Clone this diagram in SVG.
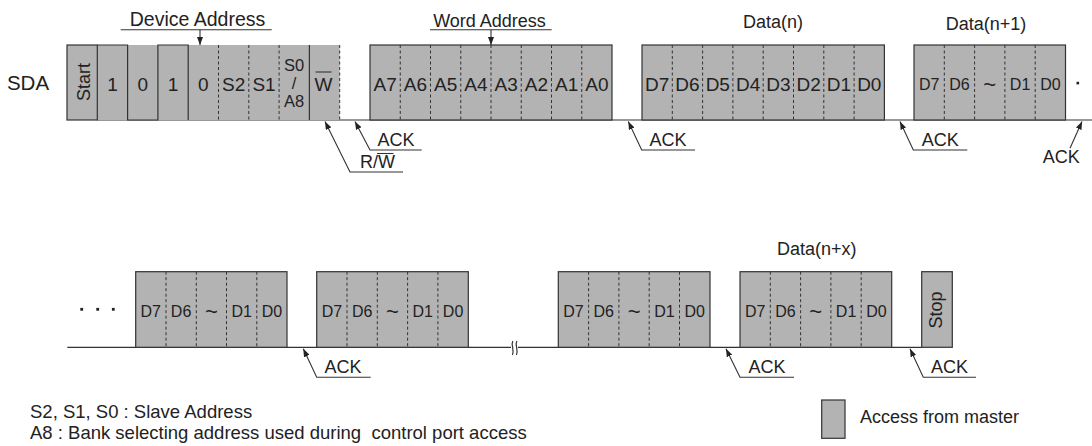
<svg xmlns="http://www.w3.org/2000/svg" width="1092" height="446" viewBox="0 0 1092 446">
<style>
.cell{fill:#b3b3b3;stroke:#333;stroke-width:1.2}
.fill{fill:#b3b3b3;stroke:none}
.div{stroke:#333;stroke-width:1;stroke-dasharray:3 2.5;fill:none}
.ln{stroke:#333;stroke-width:1.2;fill:none}
.ptr{stroke:#333;stroke-width:1.1;fill:none}
.t{font-family:"Liberation Sans",Arial,sans-serif;fill:#222;font-size:19px;text-anchor:middle}
.s{font-size:16px}
.m{font-size:18px}
.tl{font-size:22px}
.l{font-family:"Liberation Sans",Arial,sans-serif;fill:#222;font-size:18.5px;white-space:pre}
.dot{fill:#222}
</style>
<defs>
<marker id="ah" viewBox="0 0 8 6" refX="8" refY="3" markerWidth="8" markerHeight="6" orient="auto" markerUnits="userSpaceOnUse"><path d="M0,0 L8,3 L0,6 z" fill="#222"/></marker>
</defs>

<text class="t" x="28" y="90" style="font-size:20.5px">SDA</text>

<g id="connectors">
  <path class="ln" d="M97.3,120 H1092"/>
  <path class="ln" d="M67.3,347.3 H921.7"/>
  <rect x="511" y="343" width="7" height="8" fill="#fff"/>
  <path class="ln" d="M512.8,341 C510.6,345 514.8,350 512.4,355 M516.8,341 C514.6,345 518.8,350 516.4,355"/>
  <path class="ptr" d="M120.7,29.7 H271.7"/>
  <path class="ptr" d="M200,29.7 V45" marker-end="url(#ah)"/>
  <path class="ptr" d="M430,29.7 H551.7"/>
  <path class="ptr" d="M491,29.7 V45" marker-end="url(#ah)"/>
  <path class="ptr" d="M403,172 H350 L325,121.5" marker-end="url(#ah)"/>
  <path class="ptr" d="M421.7,150 H370 L355,121.5" marker-end="url(#ah)"/>
  <path class="ptr" d="M695,150 H641.7 L628.3,121.5" marker-end="url(#ah)"/>
  <path class="ptr" d="M967.3,150 H913.3 L900,121.5" marker-end="url(#ah)"/>
  <path class="ptr" d="M1070,148.3 L1082,121.5" marker-end="url(#ah)"/>
  <path class="ptr" d="M370.7,377.3 H316.7 L303.3,348.8" marker-end="url(#ah)"/>
  <path class="ptr" d="M794,377.3 H740 L726,348.8" marker-end="url(#ah)"/>
  <path class="ptr" d="M976,377.3 H923.3 L910,348.8" marker-end="url(#ah)"/>
</g>

<g id="labels">
  <text class="t" x="197.5" y="26" style="font-size:19.5px">Device Address</text>
  <text class="t m" x="489.5" y="26.5">Word Address</text>
  <text class="t m" x="773" y="28">Data(n)</text>
  <text class="t m" x="986" y="30">Data(n+1)</text>
  <text class="t m" x="816.7" y="255">Data(n+x)</text>
  <text class="t m" x="360" y="168" style="text-anchor:start">R/W</text>
  <path class="ptr" d="M377,153.5 H393.5"/>
  <text class="t m" x="396" y="145.7">ACK</text>
  <text class="t m" x="668" y="145.7">ACK</text>
  <text class="t m" x="940.3" y="145.7">ACK</text>
  <text class="t m" x="1061.3" y="163.3">ACK</text>
  <text class="t m" x="343" y="373.3">ACK</text>
  <text class="t m" x="767" y="373.3">ACK</text>
  <text class="t m" x="949.5" y="373.3">ACK</text>
</g>

<g id="device-address">
  <rect class="fill" x="97.3" y="45" width="242.4" height="75"/>
  <rect class="cell" x="67" y="45" width="30.3" height="75"/>
  <path class="ln" d="M97.3,45 H127.6 V120 H157.9 V45 H188.2 V120"/>
  <path class="div" d="M218.5,45 V120 M248.8,45 V120 M279.1,45 V120 M339.7,45 V120"/>
  <path class="ln" d="M309.4,45 V120"/>
  <text class="t m" transform="translate(90,82) rotate(-90)" x="0" y="0">Start</text>
  <text class="t" x="112.5" y="90.5">1</text>
  <text class="t" x="142.8" y="90.5">0</text>
  <text class="t" x="173" y="90.5">1</text>
  <text class="t" x="203.4" y="90.5">0</text>
  <text class="t" x="233.7" y="90.5">S2</text>
  <text class="t" x="264" y="90.5">S1</text>
  <text class="t" style="font-size:16.5px"><tspan x="294" y="70.5">S0</tspan><tspan x="294" y="88.5">/</tspan><tspan x="294" y="106.5">A8</tspan></text>
  <text class="t" x="323.5" y="90.5">W</text>
  <path class="ptr" d="M315.5,72 H331.5"/>
</g>

<g id="word-address">
  <rect class="cell" x="370" y="45" width="242" height="75"/>
  <path class="div" d="M400.25,45 V120 M430.5,45 V120 M460.75,45 V120 M491,45 V120 M521.25,45 V120 M551.5,45 V120 M581.75,45 V120"/>
  <text class="t" x="385.1" y="90.5">A7</text>
  <text class="t" x="415.4" y="90.5">A6</text>
  <text class="t" x="445.6" y="90.5">A5</text>
  <text class="t" x="475.9" y="90.5">A4</text>
  <text class="t" x="506.1" y="90.5">A3</text>
  <text class="t" x="536.4" y="90.5">A2</text>
  <text class="t" x="566.6" y="90.5">A1</text>
  <text class="t" x="596.9" y="90.5">A0</text>
</g>

<g id="data-n">
  <rect class="cell" x="642" y="45" width="242.4" height="75"/>
  <path class="div" d="M672.3,45 V120 M702.6,45 V120 M732.9,45 V120 M763.2,45 V120 M793.5,45 V120 M823.8,45 V120 M854.1,45 V120"/>
  <text class="t" x="657.2" y="90.5">D7</text>
  <text class="t" x="687.5" y="90.5">D6</text>
  <text class="t" x="717.8" y="90.5">D5</text>
  <text class="t" x="748.1" y="90.5">D4</text>
  <text class="t" x="778.4" y="90.5">D3</text>
  <text class="t" x="808.7" y="90.5">D2</text>
  <text class="t" x="839" y="90.5">D1</text>
  <text class="t" x="869.3" y="90.5">D0</text>
</g>

<g id="data-n1">
  <rect class="cell" x="914" y="45" width="151.5" height="75"/>
  <path class="div" d="M944.3,45 V120 M974.6,45 V120 M1004.9,45 V120 M1035.2,45 V120"/>
  <text class="t s" x="929.2" y="90">D7</text>
  <text class="t s" x="959.5" y="90">D6</text>
  <text class="t tl" x="989.8" y="92">~</text>
  <text class="t s" x="1020.1" y="90">D1</text>
  <text class="t s" x="1050.4" y="90">D0</text>
  <rect class="dot" x="1076.5" y="81.8" width="2.6" height="2.6"/>
</g>

<g id="dots">
  <rect class="dot" x="80.3" y="307.9" width="2.8" height="2.8"/>
  <rect class="dot" x="96.3" y="307.9" width="2.8" height="2.8"/>
  <rect class="dot" x="111.9" y="307.9" width="2.8" height="2.8"/>
</g>

<g id="data-b1">
  <rect class="cell" x="135.7" y="271.7" width="151.3" height="75.6"/>
  <path class="div" d="M166,271.7 V347.3 M196.3,271.7 V347.3 M226.5,271.7 V347.3 M256.8,271.7 V347.3"/>
  <text class="t s" x="150.8" y="316.5">D7</text>
  <text class="t s" x="181.1" y="316.5">D6</text>
  <text class="t tl" x="211.4" y="318.5">~</text>
  <text class="t s" x="241.7" y="316.5">D1</text>
  <text class="t s" x="272" y="316.5">D0</text>
</g>

<g id="data-b2">
  <rect class="cell" x="316.7" y="271.7" width="151.6" height="75.6"/>
  <path class="div" d="M347,271.7 V347.3 M377.3,271.7 V347.3 M407.6,271.7 V347.3 M437.9,271.7 V347.3"/>
  <text class="t s" x="331.9" y="316.5">D7</text>
  <text class="t s" x="362.2" y="316.5">D6</text>
  <text class="t tl" x="392.5" y="318.5">~</text>
  <text class="t s" x="422.8" y="316.5">D1</text>
  <text class="t s" x="453.1" y="316.5">D0</text>
</g>

<g id="data-b3">
  <rect class="cell" x="558.3" y="271.7" width="151.7" height="75.6"/>
  <path class="div" d="M588.6,271.7 V347.3 M618.9,271.7 V347.3 M649.2,271.7 V347.3 M679.5,271.7 V347.3"/>
  <text class="t s" x="573.5" y="316.5">D7</text>
  <text class="t s" x="603.8" y="316.5">D6</text>
  <text class="t tl" x="634.1" y="318.5">~</text>
  <text class="t s" x="664.4" y="316.5">D1</text>
  <text class="t s" x="694.7" y="316.5">D0</text>
</g>

<g id="data-nx">
  <rect class="cell" x="740" y="271.7" width="151.7" height="75.6"/>
  <path class="div" d="M770.3,271.7 V347.3 M800.6,271.7 V347.3 M830.9,271.7 V347.3 M861.2,271.7 V347.3"/>
  <text class="t s" x="755.2" y="316.5">D7</text>
  <text class="t s" x="785.5" y="316.5">D6</text>
  <text class="t tl" x="815.8" y="318.5">~</text>
  <text class="t s" x="846.1" y="316.5">D1</text>
  <text class="t s" x="876.4" y="316.5">D0</text>
</g>

<g id="stop">
  <rect class="cell" x="921.7" y="271.7" width="30.6" height="75.6"/>
  <text class="t m" transform="translate(941.5,310) rotate(-90)" x="0" y="0">Stop</text>
</g>

<g id="legend">
  <text class="l" x="30" y="418">S2, S1, S0 : Slave Address</text>
  <text class="l" x="30" y="439">A8 : Bank selecting address used during  control port access</text>
  <rect class="cell" x="821.7" y="400" width="23.3" height="38.3"/>
  <text class="l" x="860" y="423.3" style="font-size:18px">Access from master</text>
</g>
</svg>
